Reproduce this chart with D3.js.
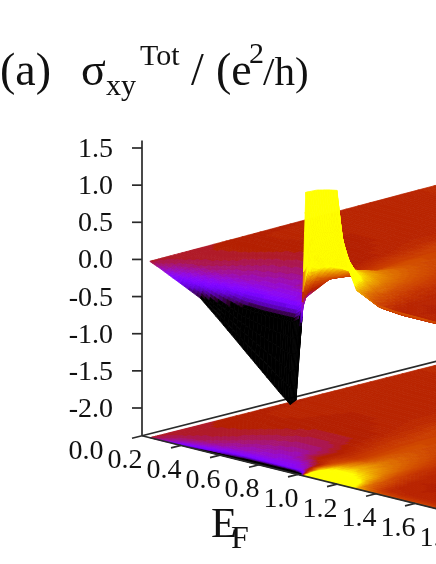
<!DOCTYPE html>
<html><head><meta charset="utf-8">
<script src="https://cdn.jsdelivr.net/npm/d3@7"></script>
<style>html,body{margin:0;padding:0;background:#fff;overflow:hidden}svg{display:block;filter:blur(.45px)}text{font-family:"Liberation Serif",serif;fill:#111}</style>
</head><body><svg id="c" width="436" height="564"></svg>
<script>
const energies=[.04,.1,.2,.3,.4,.5,.6,.7,.76,.79,.81,.825,.84,.9,.96,1.0,1.03,1.06,1.1,1.2,1.3,1.4,1.5,1.6];
const depths=[0,.015,.05,.1,.2,.3,.4,.55,.8,1.1,1.5];
const zAt000=[0,-.07,-.2,-.33,-.57,-.82,-1.07,-1.32,-1.46,-1.38,-.6,.1,1.45,1.52,1.56,1.58,.85,.56,.3,.17,.145,.14,.135,.13];
const zAt015=[.001,-.04,-.12,-.18,-.26,-.34,-.36,-.36,-.36,-.3,-.1,.3,1.0,1.0,1.05,1.05,.7,.45,.27,.13,.1,.1,.1,.1];
const zAt050=[.002,-.02,-.06,-.1,-.13,-.15,-.14,-.13,-.12,-.02,.22,.5,.62,.68,.68,.65,.5,.36,.22,.07,.05,.05,.05,.05];
const zAt100=[.004,-.005,-.02,-.05,-.075,-.09,-.1,-.11,-.04,.2,.3,.36,.4,.42,.4,.37,.33,.27,.18,.05,.03,.03,.035,.04];
const zAt200=[.007,.005,0,-.02,-.04,-.055,-.065,.02,.1,.14,.18,.22,.25,.3,.28,.25,.22,.18,.12,.03,.025,.03,.03,.03];
const zAt300=[.01,.015,.01,-.005,-.02,-.03,-.03,.02,.07,.09,.11,.13,.15,.22,.21,.19,.17,.13,.08,.03,.03,.03,.03,.03];
const zAt400=[.014,.02,.02,.01,0,-.01,0,.05,.09,.105,.12,.13,.15,.18,.17,.15,.125,.1,.065,.03,.03,.03,.03,.03];
const zAt550=[.019,.03,.03,.025,.02,.02,.025,.08,.105,.12,.135,.14,.14,.135,.11,.09,.07,.055,.04,.03,.03,.03,.03,.03];
const zAt800=[.028,.035,.035,.03,.03,.035,.06,.1,.115,.12,.115,.11,.105,.08,.06,.05,.04,.035,.03,.03,.03,.03,.03,.03];
const zAt1100=[.038,.04,.04,.04,.04,.045,.05,.08,.09,.09,.085,.08,.08,.06,.05,.04,.035,.03,.03,.03,.03,.03,.03,.03];
const zAt1500=[.05,.05,.05,.05,.05,.05,.05,.05,.05,.05,.05,.05,.05,.05,.05,.05,.05,.05,.05,.05,.05,.05,.05,.05];
const zRows=[zAt000,zAt015,zAt050,zAt100,zAt200,zAt300,zAt400,zAt550,zAt800,zAt1100,zAt1500];
const zTicks=[1.5,1,.5,0,-.5,-1,-1.5,-2];
const eTicks=[0,.2,.4,.6,.8,1,1.2,1.4,1.6,1.8];
const zBase=-2.374;

const svg=d3.select("#c");
const zY=d3.scaleLinear([-2,1.5],[408,148]);
const eX=d3.scaleLinear([0,1],[142,337]);
const eDy=d3.scaleLinear([0,1],[0,48.3]);
const vX=d3.scaleLinear([0,1.5],[0,300]);
const vDy=d3.scaleLinear([0,1.5],[0,-76]);
const colX=d3.scaleLinear([-.33,.37],[0,1]).clamp(true);
function col(z){
  const x=Math.round(colX(z)*40)/40;
  const b=Math.max(0,Math.sin(2*Math.PI*x));
  return d3.rgb(255*Math.sqrt(x),255*x*x*x,255*b).formatHex();
}
const proj=(e,v,z)=>[eX(e)+vX(v),zY(z)+eDy(e)+vDy(v)];
function zAt(i,j,a,b){
  const r0=zRows[i],r1=zRows[i+1];
  return (1-a)*((1-b)*r0[j]+b*r0[j+1])+a*((1-b)*r1[j]+b*r1[j+1]);
}
const N=5,cells=[];
for(let i=depths.length-2;i>=0;i--){
  for(let sa=N-1;sa>=0;sa--){
    for(let j=0;j<energies.length-1;j++){
      for(let sb=0;sb<N;sb++){
        const c=[[sa,sb],[sa,sb+1],[sa+1,sb+1],[sa+1,sb]].map(([p,q])=>{
          const a=p/N,b=q/N;
          return {e:energies[j]+b*(energies[j+1]-energies[j]),v:depths[i]+a*(depths[i+1]-depths[i]),z:zAt(i,j,a,b)};
        });
        cells.push({c,z:d3.mean(c,d=>d.z)});
      }
    }
  }
}
const pathOf=(c,base)=>"M"+c.map(p=>proj(p.e,p.v,base===undefined?p.z:base).map(n=>n.toFixed(1)).join(",")).join("L")+"Z";
const bottom=svg.append("g");
bottom.selectAll("path").data(cells).join("path")
  .attr("d",d=>pathOf(d.c,zBase)).attr("fill",d=>col(d.z)).attr("stroke",d=>col(d.z)).attr("stroke-width",.8);

const axisCol="#2a2a2a";
const ax=svg.append("g").attr("stroke",axisCol).attr("stroke-width",1.7).attr("fill","none");
const O=proj(0,0,zBase);
const farV=proj(0,1.5,zBase), farE=proj(1.9,0,zBase);
ax.append("line").attr("x1",O[0]).attr("y1",O[1]).attr("x2",farV[0]).attr("y2",farV[1]);
ax.append("line").attr("x1",O[0]).attr("y1",O[1]).attr("x2",farE[0]).attr("y2",farE[1]);
ax.append("line").attr("x1",O[0]).attr("y1",O[1]).attr("x2",O[0]).attr("y2",zY(1.6));
ax.selectAll(".zt").data(zTicks).join("line").attr("class","zt")
  .attr("x1",O[0]-10).attr("x2",O[0]).attr("y1",d=>zY(d)).attr("y2",d=>zY(d));
ax.selectAll(".et").data(eTicks).join("line").attr("class","et")
  .attr("x1",d=>proj(d,0,zBase)[0]).attr("y1",d=>proj(d,0,zBase)[1])
  .attr("x2",d=>proj(d,0,zBase)[0]-10).attr("y2",d=>proj(d,0,zBase)[1]+2.5);

const top_=svg.append("g");
top_.selectAll("path").data(cells).join("path")
  .attr("d",d=>pathOf(d.c)).attr("fill",d=>col(d.z)).attr("stroke",d=>col(d.z)).attr("stroke-width",.8);

const fs=28;
svg.selectAll(".zl").data(zTicks).join("text").attr("class","zl")
  .attr("x",113).attr("y",d=>zY(d)+9).attr("text-anchor","end").attr("font-size",fs).text(d=>d3.format(".1f")(d).replace("−","-"));
svg.selectAll(".el").data(eTicks).join("text").attr("class","el")
  .attr("x",d=>proj(d,0,zBase)[0]-56).attr("y",d=>proj(d,0,zBase)[1]+23).attr("text-anchor","middle").attr("font-size",fs).text(d=>d3.format(".1f")(d));

const label=(s,x,y,size)=>svg.append("text").attr("x",x).attr("y",y).attr("font-size",size).text(s);
label("(a)",0,85,46);
label("σ",81,85,46);
label("xy",106,95,30);
label("Tot",140,65,30);
label("/",191,85,46);
label("(e",216,85,46);
label("2",249,63,30);
label("/h)",263,85,41);
label("E",211,537,43);
label("F",231,548,32);
</script></body></html>
